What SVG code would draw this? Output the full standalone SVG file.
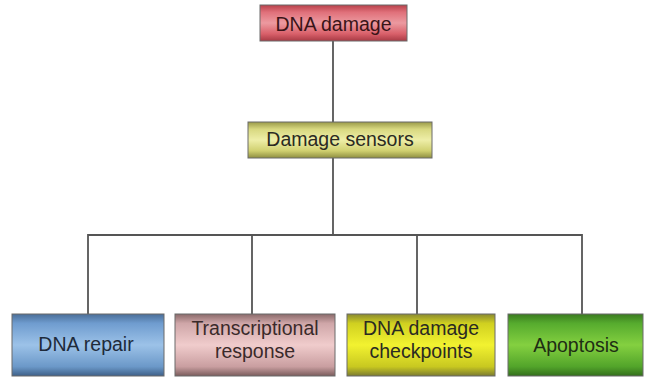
<svg xmlns="http://www.w3.org/2000/svg" width="647" height="381" viewBox="0 0 647 381">
<defs>
<linearGradient id="gRed" x1="0" y1="0" x2="0" y2="1">
<stop offset="0" stop-color="#b8404a"/><stop offset="0.2" stop-color="#e0707a"/><stop offset="0.5" stop-color="#ec9aa0"/><stop offset="0.8" stop-color="#d9606a"/><stop offset="1" stop-color="#a83a44"/>
</linearGradient>
<linearGradient id="gSens" x1="0" y1="0" x2="0" y2="1">
<stop offset="0" stop-color="#9a9a48"/><stop offset="0.2" stop-color="#d8d880"/><stop offset="0.5" stop-color="#eeeea8"/><stop offset="0.8" stop-color="#d0d070"/><stop offset="1" stop-color="#8e8e40"/>
</linearGradient>
<linearGradient id="gBlue" x1="0" y1="0" x2="0" y2="1">
<stop offset="0" stop-color="#4a6e98"/><stop offset="0.15" stop-color="#6f9ccf"/><stop offset="0.5" stop-color="#9cc2e8"/><stop offset="0.85" stop-color="#6b98c8"/><stop offset="1" stop-color="#3e6088"/>
</linearGradient>
<linearGradient id="gPink" x1="0" y1="0" x2="0" y2="1">
<stop offset="0" stop-color="#8a6a6a"/><stop offset="0.15" stop-color="#cfa6a8"/><stop offset="0.5" stop-color="#f0cccc"/><stop offset="0.85" stop-color="#c99ea0"/><stop offset="1" stop-color="#7a5c5c"/>
</linearGradient>
<linearGradient id="gYel" x1="0" y1="0" x2="0" y2="1">
<stop offset="0" stop-color="#8a8a30"/><stop offset="0.15" stop-color="#d0d020"/><stop offset="0.5" stop-color="#f2f230"/><stop offset="0.85" stop-color="#c8c820"/><stop offset="1" stop-color="#7a7a30"/>
</linearGradient>
<linearGradient id="gGreen" x1="0" y1="0" x2="0" y2="1">
<stop offset="0" stop-color="#3a7a20"/><stop offset="0.15" stop-color="#56ab2e"/><stop offset="0.5" stop-color="#84d040"/><stop offset="0.85" stop-color="#52a42a"/><stop offset="1" stop-color="#336e1c"/>
</linearGradient>
</defs>
<style>
.box{stroke:#6a6a6a;stroke-width:1}
.t{font-family:"Liberation Sans",Arial,sans-serif;font-size:19.5px;fill:#2a2a22;text-anchor:middle}
.line{stroke:#555;stroke-width:1.8;fill:none}
</style>
<rect width="647" height="381" fill="#ffffff"/>
<g id="connectors">
<path class="line" d="M333 41 V122"/>
<path class="line" d="M333 158 V235"/>
<path class="line" d="M88 314 V235 H582 V314"/>
<path class="line" d="M252 235 V314"/>
<path class="line" d="M417 235 V314"/>
</g>
<g id="dna-damage">
<rect class="box" x="260" y="5" width="147" height="36" fill="url(#gRed)"/>
<text class="t" x="333.5" y="31" style="fill:#3a1418">DNA damage</text>
</g>
<g id="damage-sensors">
<rect class="box" x="248" y="122" width="184" height="36" fill="url(#gSens)"/>
<text class="t" x="340" y="146">Damage sensors</text>
</g>
<g id="dna-repair">
<rect class="box" x="12" y="314" width="152" height="62" fill="url(#gBlue)"/>
<text class="t" x="86" y="351" style="fill:#1e2a3a">DNA repair</text>
</g>
<g id="transcriptional-response">
<rect class="box" x="175" y="314" width="160" height="62" fill="url(#gPink)"/>
<text class="t" x="255" y="335" style="fill:#3a2a2a">Transcriptional</text>
<text class="t" x="255" y="358" style="fill:#3a2a2a">response</text>
</g>
<g id="dna-damage-checkpoints">
<rect class="box" x="347" y="314" width="148" height="62" fill="url(#gYel)"/>
<text class="t" x="421" y="335">DNA damage</text>
<text class="t" x="421" y="358">checkpoints</text>
</g>
<g id="apoptosis">
<rect class="box" x="508" y="314" width="135" height="62" fill="url(#gGreen)"/>
<text class="t" x="576" y="352" style="fill:#1e2e14">Apoptosis</text>
</g>
</svg>
